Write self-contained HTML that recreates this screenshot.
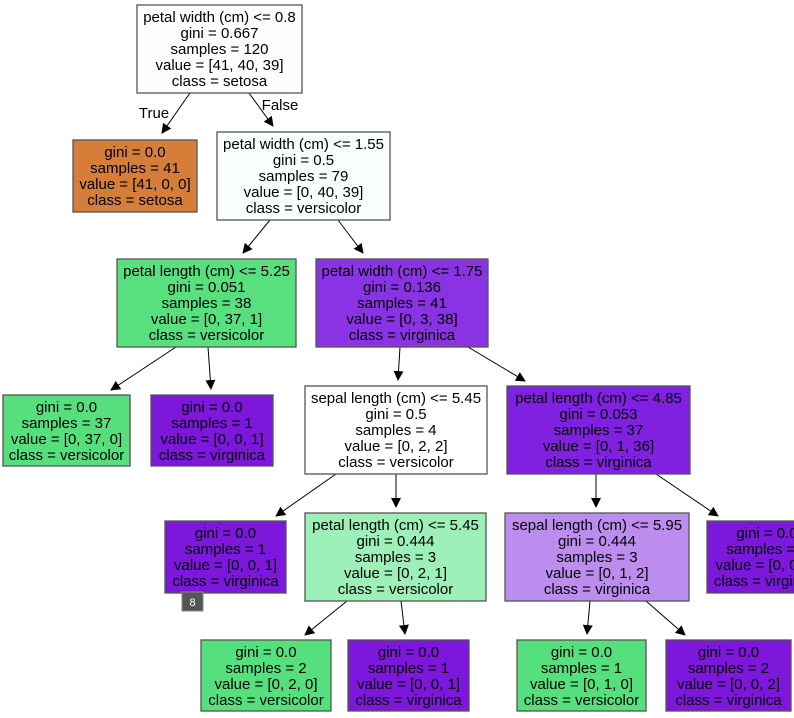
<!DOCTYPE html>
<html><head><meta charset="utf-8"><style>
html,body{margin:0;padding:0;background:#fff;width:794px;height:718px;overflow:hidden}
svg{display:block}
text{font-family:"Liberation Sans",Arial,sans-serif;font-size:15px;fill:#000}
rect.n{stroke:#555;stroke-width:1.3}
line{stroke:#000;stroke-width:1}
</style></head><body>
<svg width="794" height="718" viewBox="0 0 794 718" xmlns="http://www.w3.org/2000/svg">
<defs><marker id="a" markerWidth="10" markerHeight="10" refX="9" refY="5" orient="auto" markerUnits="userSpaceOnUse"><path d="M0,0 L10,5 L0,10 z" fill="#000"/></marker></defs>
<line x1="190" y1="93" x2="162" y2="133" marker-end="url(#a)"/>
<line x1="249" y1="93" x2="273" y2="126" marker-end="url(#a)"/>
<line x1="270" y1="220" x2="243" y2="253" marker-end="url(#a)"/>
<line x1="338" y1="220" x2="363" y2="253" marker-end="url(#a)"/>
<line x1="176" y1="347" x2="111" y2="390" marker-end="url(#a)"/>
<line x1="208" y1="347" x2="211" y2="389" marker-end="url(#a)"/>
<line x1="400" y1="347" x2="398" y2="380" marker-end="url(#a)"/>
<line x1="468" y1="347" x2="525" y2="381" marker-end="url(#a)"/>
<line x1="336" y1="474" x2="276" y2="516" marker-end="url(#a)"/>
<line x1="396" y1="474" x2="396" y2="507" marker-end="url(#a)"/>
<line x1="596" y1="474" x2="596" y2="507" marker-end="url(#a)"/>
<line x1="656" y1="474" x2="718" y2="516" marker-end="url(#a)"/>
<line x1="347" y1="601" x2="305" y2="635" marker-end="url(#a)"/>
<line x1="401" y1="601" x2="405" y2="634" marker-end="url(#a)"/>
<line x1="590" y1="601" x2="587" y2="634" marker-end="url(#a)"/>
<line x1="646" y1="601" x2="685" y2="635" marker-end="url(#a)"/>
<text x="154" y="118" text-anchor="middle">True</text>
<text x="280" y="110" text-anchor="middle">False</text>

<g text-anchor="middle">
<rect class="n" x="137" y="5" width="165" height="88" fill="#fffdfd"/>
<text x="219.5" y="22">petal width (cm) &lt;= 0.8</text><text x="219.5" y="38">gini = 0.667</text><text x="219.5" y="54">samples = 120</text><text x="219.5" y="70">value = [41, 40, 39]</text><text x="219.5" y="86">class = setosa</text>

<rect class="n" x="73" y="140" width="124" height="72" fill="#d57e3a"/>
<text x="135" y="157">gini = 0.0</text><text x="135" y="173">samples = 41</text><text x="135" y="189">value = [41, 0, 0]</text><text x="135" y="205">class = setosa</text>

<rect class="n" x="217" y="132" width="173" height="88" fill="#f8fefc"/>
<text x="303.5" y="149">petal width (cm) &lt;= 1.55</text><text x="303.5" y="165">gini = 0.5</text><text x="303.5" y="181">samples = 79</text><text x="303.5" y="197">value = [0, 40, 39]</text><text x="303.5" y="213">class = versicolor</text>

<rect class="n" x="117" y="259" width="179" height="88" fill="#58e07e"/>
<text x="206.5" y="276">petal length (cm) &lt;= 5.25</text><text x="206.5" y="292">gini = 0.051</text><text x="206.5" y="308">samples = 38</text><text x="206.5" y="324">value = [0, 37, 1]</text><text x="206.5" y="340">class = versicolor</text>

<rect class="n" x="316" y="259" width="172" height="88" fill="#8a33e5"/>
<text x="402" y="276">petal width (cm) &lt;= 1.75</text><text x="402" y="292">gini = 0.136</text><text x="402" y="308">samples = 41</text><text x="402" y="324">value = [0, 3, 38]</text><text x="402" y="340">class = virginica</text>

<rect class="n" x="3" y="395" width="127" height="71" fill="#56e07d"/>
<text x="66.5" y="412">gini = 0.0</text><text x="66.5" y="428">samples = 37</text><text x="66.5" y="444">value = [0, 37, 0]</text><text x="66.5" y="460">class = versicolor</text>

<rect class="n" x="151" y="395" width="122" height="71" fill="#7d17dc"/>
<text x="212" y="412">gini = 0.0</text><text x="212" y="428">samples = 1</text><text x="212" y="444">value = [0, 0, 1]</text><text x="212" y="460">class = virginica</text>

<rect class="n" x="305" y="386" width="182" height="88" fill="#ffffff"/>
<text x="396" y="403">sepal length (cm) &lt;= 5.45</text><text x="396" y="419">gini = 0.5</text><text x="396" y="435">samples = 4</text><text x="396" y="451">value = [0, 2, 2]</text><text x="396" y="467">class = versicolor</text>

<rect class="n" x="507" y="386" width="183" height="88" fill="#8020e0"/>
<text x="598.5" y="403">petal length (cm) &lt;= 4.85</text><text x="598.5" y="419">gini = 0.053</text><text x="598.5" y="435">samples = 37</text><text x="598.5" y="451">value = [0, 1, 36]</text><text x="598.5" y="467">class = virginica</text>

<rect class="n" x="165" y="521" width="121" height="72" fill="#7d17dc"/>
<text x="225.5" y="538">gini = 0.0</text><text x="225.5" y="554">samples = 1</text><text x="225.5" y="570">value = [0, 0, 1]</text><text x="225.5" y="586">class = virginica</text>

<rect class="n" x="305" y="513" width="181" height="88" fill="#9ef0b9"/>
<text x="395.5" y="530">petal length (cm) &lt;= 5.45</text><text x="395.5" y="546">gini = 0.444</text><text x="395.5" y="562">samples = 3</text><text x="395.5" y="578">value = [0, 2, 1]</text><text x="395.5" y="594">class = versicolor</text>

<rect class="n" x="505" y="513" width="184" height="88" fill="#bd8cef"/>
<text x="597" y="530">sepal length (cm) &lt;= 5.95</text><text x="597" y="546">gini = 0.444</text><text x="597" y="562">samples = 3</text><text x="597" y="578">value = [0, 1, 2]</text><text x="597" y="594">class = virginica</text>

<rect class="n" x="707" y="521" width="120" height="72" fill="#7d17dc"/>
<text x="767" y="538">gini = 0.0</text><text x="767" y="554">samples = 2</text><text x="767" y="570">value = [0, 0, 2]</text><text x="767" y="586">class = virginica</text>

<rect class="n" x="201" y="640" width="130" height="71" fill="#56e07d"/>
<text x="266" y="657">gini = 0.0</text><text x="266" y="673">samples = 2</text><text x="266" y="689">value = [0, 2, 0]</text><text x="266" y="705">class = versicolor</text>

<rect class="n" x="348" y="640" width="121" height="71" fill="#7d17dc"/>
<text x="408.5" y="657">gini = 0.0</text><text x="408.5" y="673">samples = 1</text><text x="408.5" y="689">value = [0, 0, 1]</text><text x="408.5" y="705">class = virginica</text>

<rect class="n" x="517" y="640" width="129" height="71" fill="#56e07d"/>
<text x="581.5" y="657">gini = 0.0</text><text x="581.5" y="673">samples = 1</text><text x="581.5" y="689">value = [0, 1, 0]</text><text x="581.5" y="705">class = versicolor</text>

<rect class="n" x="666" y="640" width="125" height="71" fill="#7d17dc"/>
<text x="728.5" y="657">gini = 0.0</text><text x="728.5" y="673">samples = 2</text><text x="728.5" y="689">value = [0, 0, 2]</text><text x="728.5" y="705">class = virginica</text>
</g>
<rect x="182" y="592" width="21" height="19" fill="#555" stroke="#888" stroke-width="1"/>
<text x="192.5" y="606" text-anchor="middle" style="font-size:11px;fill:#fff">8</text>
</svg>
</body></html>
